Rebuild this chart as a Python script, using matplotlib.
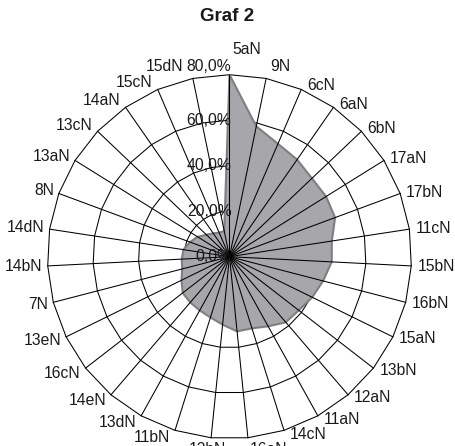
import numpy as np
import matplotlib
matplotlib.use("Agg")
import matplotlib.pyplot as plt

plt.rcParams['font.family'] = ['Liberation Sans', 'DejaVu Sans']

# Categories (clockwise from the top) and their shares in percent
categories = ['5aN', '9N', '6cN', '6aN', '6bN', '17aN', '17bN', '11cN', '15bN',
              '16bN', '15aN', '13bN', '12aN', '11aN', '14cN', '16aN', '12bN',
              '11bN', '13dN', '14eN', '16cN', '13eN', '7N', '14bN', '14dN',
              '8N', '13aN', '13cN', '14aN', '15cN', '15dN']
values = [80.0, 58.5, 54.0, 52.0, 50.0, 50.0, 49.5, 45.5, 45.0,
          42.5, 40.5, 38.5, 38.0, 35.0, 33.0, 33.0, 30.0,
          28.0, 27.0, 26.5, 26.0, 23.5, 21.5, 21.0, 20.5,
          18.5, 16.5, 14.0, 12.5, 11.5, 11.5]
radial_ticks = [0, 20, 40, 60, 80]
title = 'Graf 2'

W, H, DPI = 456, 446, 100
fig = plt.figure(figsize=(W / DPI, H / DPI), dpi=DPI)
fig.patch.set_facecolor('white')

# polar plot area: centre (229.5, 256.7) px, radius 182 px
cx, cy, R = 229.5, 256.7, 182.0
rect = [(cx - R) / W, (H - cy - R) / H, 2 * R / W, 2 * R / H]
ax = fig.add_axes(rect, projection='polar')
ax.set_theta_zero_location('N')
ax.set_theta_direction(-1)
ax.set_ylim(0, radial_ticks[-1])
ax.grid(False)
ax.set_xticks([])
ax.set_yticks([])
ax.spines['polar'].set_visible(False)
ax.patch.set_visible(False)

n = len(categories)
theta = np.arange(n) * 2 * np.pi / n
theta_c = np.append(theta, theta[0])

lw_grid = 0.75
# polygonal rings
for v in radial_ticks[1:]:
    ax.plot(theta_c, [v] * (n + 1), color='black', lw=lw_grid, zorder=1,
            clip_on=False)

# data area
vals_c = np.append(values, values[0])
ax.fill(theta_c, vals_c, facecolor='#a7a7ab', edgecolor='#7f7f7f', lw=1.5,
        zorder=2, clip_on=False)

# spokes
for t in theta:
    ax.plot([t, t], [0, radial_ticks[-1]], color='black', lw=lw_grid, zorder=3,
            clip_on=False)

# radial tick labels
for v in radial_ticks:
    txt = f"{v:.1f}".replace('.', ',') + '%'
    dy = 8 if v == radial_ticks[-1] else 0
    ax.annotate(txt, xy=(0, v), xytext=(2, dy), textcoords='offset pixels',
                ha='right', va='center', fontsize=11.3, color='#1a1a1a',
                zorder=5, annotation_clip=False)

# category labels
rmax = radial_ticks[-1]
for t, lab in zip(theta, categories):
    s, c = np.sin(t), np.cos(t)
    if abs(s) < 1e-9:
        ha, dx, dy = 'left', 2.5, 25
    elif abs(c) > 0.97:
        dy = 12 * c
        if c > 0:
            ha, dx = ('left', 4) if s > 0 else ('right', -10)
        else:
            ha, dx = ('left', 2) if s > 0 else ('center', -4)
    elif s > 0:
        ha, dx, dy = 'left', 6, 4 * c
    else:
        ha, dx, dy = 'right', -5, 8 * c
    ax.annotate(lab, xy=(t, rmax), xytext=(dx, dy), textcoords='offset pixels',
                ha=ha, va='center', fontsize=11.3, color='#1a1a1a',
                zorder=5, annotation_clip=False)

fig.text(227 / W, 1 - 16.5 / H, title, ha='center', va='center',
         fontsize=13.5, fontweight='bold', color='#1a1a1a')

fig.savefig('out.png', dpi=DPI, facecolor='white')
